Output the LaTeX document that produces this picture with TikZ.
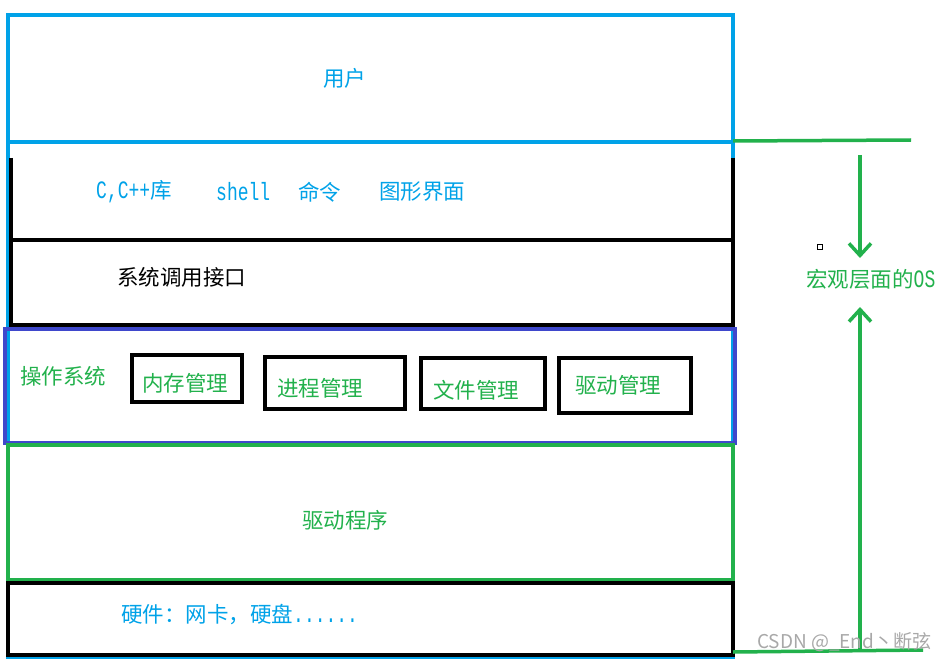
\documentclass[tikz,border=0pt]{standalone}
\usepackage{fontspec}
\newfontfamily\cjk{Noto Sans CJK SC}
\newfontfamily\mono[FakeStretch=0.72]{Liberation Mono}
\usetikzlibrary{arrows.meta}
\definecolor{cyanc}{HTML}{00A2E8}
\definecolor{greenc}{HTML}{22B14C}
\definecolor{violetc}{HTML}{3F48CC}
\definecolor{wmgrey}{HTML}{A8A8A8}
\newcommand{\lat}[1]{{\mono\fontsize{25}{25}\selectfont #1}}
\tikzset{
  frame/.style={line width=4pt},
  mgrbox/.style={draw=black, line width=4pt, inner sep=0pt, rectangle},
  txt/.style={inner sep=0pt, anchor=west, font=\cjk\fontsize{21.5}{22}\selectfont},
  garrow/.style={draw=greenc, line width=3.5pt, -{Straight Barb[length=12pt,width=22pt,line width=3.5pt]}},
  gline/.style={draw=greenc, line width=3.5pt}
}
\begin{document}
\begin{tikzpicture}[x=1pt,y=-1pt]
\useasboundingbox (0,0) rectangle (947,663);
% outer blue frame
\draw[cyanc, frame] (8,15) rectangle (733,657);
\draw[cyanc, frame] (8,142) -- (733,142);
% black library / syscall block
\draw[black, frame] (11,158) -- (11,325) -- (733,325) -- (733,158);
\draw[black, frame] (11,240) -- (733,240);
% OS block
\draw[violetc, frame] (5,329) rectangle (735,443);
% driver block
\draw[greenc, frame] (8,445) rectangle (733,580);
% hardware block
\draw[black, frame] (8,583) rectangle (733,655);

% texts
\node[txt, text=cyanc] (user) at (323,78) {用户};
\node[txt, text=cyanc] (lib) at (96,192) {\lat{C,C++}库};
\node[txt, text=cyanc] (shell) at (216,192) {\lat{shell}};
\node[txt, text=cyanc] (cmd) at (298,192) {命令};
\node[txt, text=cyanc] (gui) at (379,192) {图形界面};
\node[txt, text=black] (syscall) at (117,277) {系统调用接口};
\node[txt, text=greenc] (os) at (20,376) {操作系统};

% manager boxes
\node[mgrbox, minimum width=110pt, minimum height=47pt] (mem) at (186.5,378.5) {};
\node[mgrbox, minimum width=140pt, minimum height=52pt] (proc) at (335,383) {};
\node[mgrbox, minimum width=124pt, minimum height=51pt] (file) at (482.5,383) {};
\node[mgrbox, minimum width=132pt, minimum height=55pt] (drv) at (625,385.5) {};
\node[txt, text=greenc] (memt) at (142,383) {内存管理};
\node[txt, text=greenc] (proct) at (277,388) {进程管理};
\node[txt, text=greenc] (filet) at (433,390) {文件管理};
\node[txt, text=greenc] (drvt) at (575,385) {驱动管理};

\node[txt, text=greenc] (driver) at (302,520) {驱动程序};
\node[txt, text=cyanc] (hw) at (121,615) {硬件：网卡，硬盘\lat{......}};

% macro OS annotation
\node[txt, text=greenc] (macro) at (806,279) {宏观层面的\lat{OS}};
\coordinate (tl1) at (733,141);
\coordinate (tl2) at (911,140);
\coordinate (bl1) at (733,652);
\coordinate (bl2) at (923,650);
\coordinate (d1) at (860,155);
\coordinate (d2) at (860,258);
\coordinate (u1) at (860,649);
\coordinate (u2) at (860,307);
\draw[gline] (tl1) -- (tl2);
\draw[gline] (bl1) -- (bl2);
\draw[garrow] (d1) -- (d2);
\draw[garrow] (u1) -- (u2);
\node[draw=black, line width=1pt, inner sep=0pt, minimum width=5pt, minimum height=5pt] (dot) at (819.5,246.5) {};

% watermark
\node[inner sep=0pt, anchor=west, text=wmgrey, font=\cjk\fontsize{19}{19}\selectfont] (wm) at (757,642) {CSDN @\_End丶断弦};
\end{tikzpicture}
\end{document}
